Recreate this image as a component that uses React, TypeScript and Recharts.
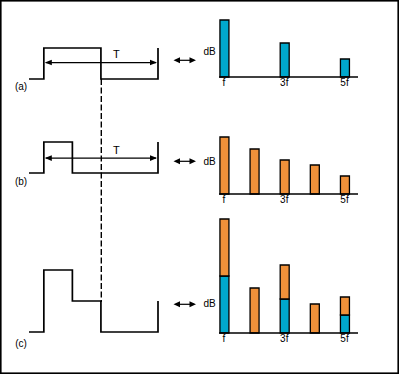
import React from 'react'
import { BarChart, Bar, LineChart, Line, XAxis, YAxis, ReferenceLine } from 'recharts'

// time axis of the waveforms, in periods T
const waveTime = [-0.13, 0, 0.25, 0.5, 1]
// signal levels (stepAfter) for the three waveforms
const waveA = [0, 1, 1, 0, 1]
const waveB = [0, 1, 0, 0, 1]
const waveC = [0, 2, 1, 0, 1]

// harmonic number and spectral line heights (dB, arbitrary)
const harmonics = [1, 2, 3, 4, 5]
const squareSpectrum = [57, 0, 34, 0, 18]
const pulseSpectrum = [57, 45, 34, 29, 18]
const harmonicTicks = [1, 3, 5]

const BLUE = '#00a8cc'
const ORANGE = '#f0913a'
const FONT = '"Liberation Sans", Arial, sans-serif'

const waveRows = (levels: number[]) => waveTime.map((t, i) => ({ t, v: levels[i] }))
const specRows = harmonics.map((h, i) => ({ h, sq: squareSpectrum[i], pu: pulseSpectrum[i] }))

const TArrow = (p: any) => {
  const { x1, y1, x2 } = p
  const hl = 7
  const hh = 2.8
  return (
    <g>
      <line x1={x1 + 2} y1={y1} x2={x2 - 2} y2={y1} stroke="#000" strokeWidth={1.3} />
      <polygon points={`${x1 + 1},${y1} ${x1 + 1 + hl},${y1 - hh} ${x1 + 1 + hl},${y1 + hh}`} fill="#000" />
      <polygon points={`${x2 - 1},${y1} ${x2 - 1 - hl},${y1 - hh} ${x2 - 1 - hl},${y1 + hh}`} fill="#000" />
      <text x={x1 + 0.635 * (x2 - x1)} y={y1 - 4.5} textAnchor="middle" fontSize={11} fill="#000">
        T
      </text>
    </g>
  )
}

function Wave({ top, levels, arrowAt }: { top: number; levels: number[]; arrowAt?: number }) {
  return (
    <div style={{ position: 'absolute', left: 25, top }}>
      <LineChart width={137} height={70} data={waveRows(levels)} margin={{ top: 4, right: 4, bottom: 4, left: 4 }}>
        <XAxis type="number" dataKey="t" domain={[-0.13, 1]} hide />
        <YAxis type="number" domain={[0, 2]} hide />
        {arrowAt !== undefined && (
          <ReferenceLine segment={[{ x: 0, y: arrowAt }, { x: 1, y: arrowAt }]} shape={TArrow} />
        )}
        <Line type="stepAfter" dataKey="v" stroke="#000" strokeWidth={1.7} dot={false} isAnimationActive={false} />
      </LineChart>
    </div>
  )
}

function Spectrum({
  top,
  plotH,
  max,
  dbOffset,
  children,
}: {
  top: number
  plotH: number
  max: number
  dbOffset: number
  children: React.ReactNode
}) {
  return (
    <div style={{ position: 'absolute', left: 200, top }}>
      <BarChart width={163} height={plotH + 19} data={specRows} margin={{ top: 3, right: 5, bottom: 0, left: 0 }}>
        <XAxis
          type="number"
          dataKey="h"
          domain={[0.834, 5.448]}
          ticks={harmonicTicks}
          tickFormatter={(n: number) => (n === 1 ? 'f' : `${n}f`)}
          axisLine={{ stroke: '#000', strokeWidth: 1.6 }}
          tickLine={false}
          tickSize={0}
          tickMargin={2}
          height={16}
          tick={{ fill: '#000', fontSize: 10 }}
        />
        <YAxis
          type="number"
          domain={[0, max]}
          width={19}
          tick={false}
          axisLine={false}
          tickLine={false}
          label={{ value: 'dB', position: 'insideBottom', offset: dbOffset, fill: '#000', fontSize: 10 }}
        />
        {children}
      </BarChart>
    </div>
  )
}

export default function App() {
  const arrows = [60.3, 161.3, 304.3]
  return (
    <div
      style={{
        position: 'fixed',
        left: 0,
        top: 0,
        width: 399,
        height: 374,
        background: '#fff',
        fontFamily: FONT,
      }}
    >
      <Wave top={13} levels={waveA} arrowAt={0.53} />
      <Wave top={107} levels={waveB} arrowAt={0.48} />
      <Wave top={266} levels={waveC} />

      <Spectrum top={14} plotH={60} max={60} dbOffset={22}>
        <Bar dataKey="sq" fill={BLUE} stroke="#000" strokeWidth={1.3} barSize={9} isAnimationActive={false} />
      </Spectrum>
      <Spectrum top={131} plotH={60} max={60} dbOffset={29}>
        <Bar dataKey="pu" fill={ORANGE} stroke="#000" strokeWidth={1.3} barSize={9} isAnimationActive={false} />
      </Spectrum>
      <Spectrum top={210} plotH={120} max={120} dbOffset={26}>
        <Bar dataKey="sq" stackId="c" fill={BLUE} stroke="#000" strokeWidth={1.3} barSize={9} isAnimationActive={false} />
        <Bar dataKey="pu" stackId="c" fill={ORANGE} stroke="#000" strokeWidth={1.3} barSize={9} isAnimationActive={false} />
      </Spectrum>

      <svg
        width={399}
        height={374}
        style={{ position: 'absolute', left: 0, top: 0, pointerEvents: 'none' }}
      >
        <rect x={0.8} y={0.8} width={397.4} height={372.4} fill="none" stroke="#000" strokeWidth={1.6} />
        <line x1={101.3} y1={79} x2={101.3} y2={302} stroke="#000" strokeWidth={1.4} strokeDasharray="6 2.5" />
        {arrows.map((y) => (
          <g key={y}>
            <line x1={176} y1={y} x2={194} y2={y} stroke="#000" strokeWidth={1.2} />
            <polygon points={`${173.5},${y} ${180},${y - 3} ${180},${y + 3}`} fill="#000" />
            <polygon points={`${196},${y} ${189.5},${y - 3} ${189.5},${y + 3}`} fill="#000" />
          </g>
        ))}
        <text x={21} y={89.5} textAnchor="middle" fontSize={10} fill="#000">(a)</text>
        <text x={21} y={185} textAnchor="middle" fontSize={10} fill="#000">(b)</text>
        <text x={21} y={346.5} textAnchor="middle" fontSize={10} fill="#000">(c)</text>
      </svg>
    </div>
  )
}
